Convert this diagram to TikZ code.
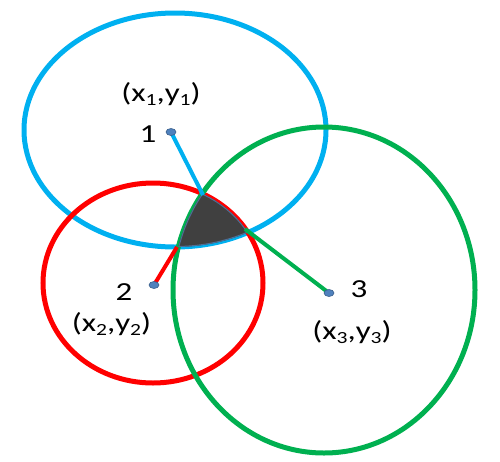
\documentclass[tikz,border=0pt]{standalone}
\usepackage{fontspec}
\setmainfont{Carlito}
\usetikzlibrary{shapes.geometric}
\definecolor{cblue}{RGB}{0,176,240}
\definecolor{cred}{RGB}{255,0,0}
\definecolor{cgreen}{RGB}{0,176,80}
\definecolor{dotblue}{RGB}{79,129,189}
\definecolor{dotedge}{RGB}{56,93,138}
\definecolor{region}{RGB}{64,64,64}
\definecolor{regionedge}{RGB}{80,110,150}
\newcommand{\mysub}[1]{\raisebox{-4pt}{\fontsize{17}{17}\selectfont #1}}
\newcommand{\wide}[1]{\scalebox{1.27}[1]{#1}}
\begin{document}
\begin{tikzpicture}[x=1pt,y=-1pt,
  ring/.style={line width=5pt},
  spoke/.style={line width=4pt},
  dot/.style={ellipse, fill=dotblue, draw=dotedge, line width=0.6pt, minimum width=10pt, minimum height=7pt, inner sep=0pt},
  lbl/.style={font=\fontsize{26}{31}\selectfont, inner sep=0pt}]
\useasboundingbox (0,0) rectangle (500,461);
% circles
\draw[ring, cblue]  (175,130) ellipse [x radius=151, y radius=117];
\draw[ring, cred]   (153,283) ellipse [x radius=110, y radius=100];
\draw[ring, cgreen] (324,290) ellipse [x radius=151, y radius=163];
% common region
\begin{scope}
  \clip (175,130) ellipse [x radius=151, y radius=117];
  \clip (153,283) ellipse [x radius=110, y radius=100];
  \clip (324,290) ellipse [x radius=151, y radius=163];
  \fill[region] (0,0) rectangle (500,461);
  \draw[regionedge, line width=2pt] (175,130) ellipse [x radius=151, y radius=117];
  \draw[regionedge, line width=2pt] (153,283) ellipse [x radius=110, y radius=100];
  \draw[regionedge, line width=2pt] (324,290) ellipse [x radius=151, y radius=163];
\end{scope}
% vertices and point positions
\coordinate (vtop) at (203,195);
\coordinate (vright) at (245,229);
\coordinate (vleft) at (177,247);
\coordinate (q1) at (171,132);
\coordinate (q2) at (154,285);
\coordinate (q3) at (329,293);
\draw[spoke, cblue]  (q1) -- (vtop);
\draw[spoke, cred]   (q2) -- (vleft);
\draw[spoke, cgreen] (q3) -- (vright);
\node[dot] (p1) at (q1) {};
\node[dot] (p2) at (q2) {};
\node[dot] (p3) at (q3) {};
% labels
\node[lbl] (c1) at (161,94) {\wide{(x\mysub{1},y\mysub{1})}};
\node[lbl] (n1) at (148,134) {\wide{1}};
\node[lbl] (n2) at (124,292) {\wide{2}};
\node[lbl] (c2) at (111.5,324) {\wide{(x\mysub{2},y\mysub{2})}};
\node[lbl] (n3) at (359,289) {\wide{3}};
\node[lbl] (c3) at (352,332) {\wide{(x\mysub{3},y\mysub{3})}};
\end{tikzpicture}
\end{document}
